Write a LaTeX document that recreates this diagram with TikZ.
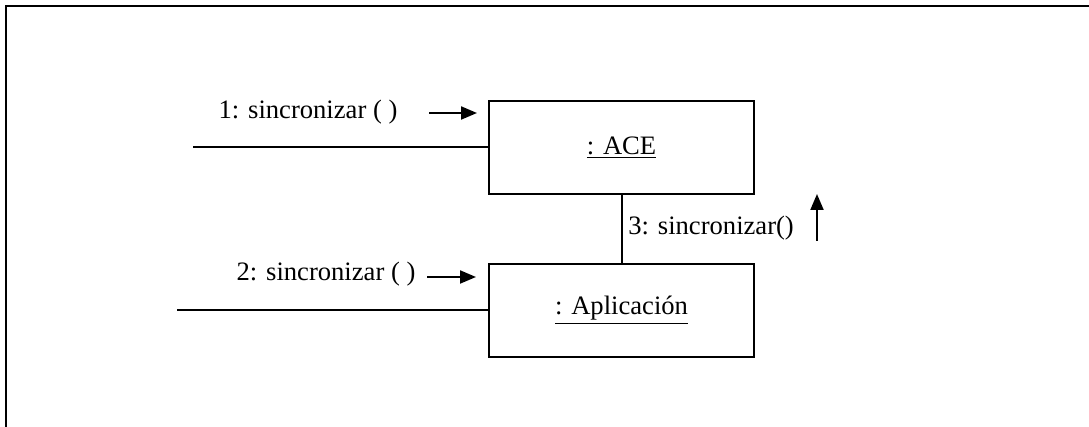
\documentclass[tikz,border=0pt]{standalone}
\usepackage{fontspec}
\setmainfont{Liberation Serif}
\usetikzlibrary{arrows.meta,positioning}

\tikzset{
  objeto/.style={draw,line width=1pt,minimum width=132.5pt,minimum height=46.5pt,font=\fontsize{13.3}{15}\selectfont},
  etiqueta/.style={inner sep=0pt,font=\fontsize{13.3}{15}\selectfont},
  enlace/.style={line width=1pt},
  mensaje/.style={line width=1pt,-{Triangle[length=8pt,width=6.5pt]}}
}

\begin{document}
\begin{tikzpicture}[x=0.5pt,y=-0.5pt]
\useasboundingbox (0,0) rectangle (1089,427);
% marco
\draw[line width=1pt] (1089,6) -- (6,6) -- (6,427);

% objetos
\node[objeto] (ace) at (621.5,147.5) {\underline{: ACE}};
\node[objeto] (app) at (621.5,310.5) {\underline{: Aplicación}};

% enlaces
\coordinate (in1) at (193,147.5);
\coordinate (in2) at (177,310.5);
\draw[enlace] (in1) -- (ace.west);
\draw[enlace] (in2) -- (app.west);
\draw[enlace] (ace.south) -- (app.north);

% mensajes
\node[etiqueta] (m1) at (308,112) {1: sincronizar ( )};
\node[etiqueta] (m2) at (326,274) {2: sincronizar ( )};
\node[etiqueta,anchor=west] (m3) at (628,228) {3: sincronizar()};
\coordinate (a1s) at (429,113);
\coordinate (a1e) at (477,113);
\coordinate (a2s) at (427,277);
\coordinate (a2e) at (476,277);
\coordinate (a3s) at (817,241);
\coordinate (a3e) at (817,194);
\draw[mensaje] (a1s) -- (a1e);
\draw[mensaje] (a2s) -- (a2e);
\draw[mensaje] (a3s) -- (a3e);
\end{tikzpicture}
\end{document}
